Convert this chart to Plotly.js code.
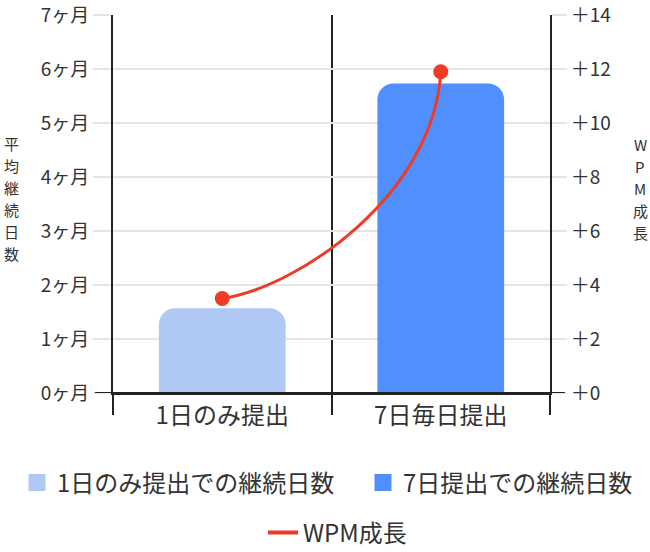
<!DOCTYPE html>
<html>
<head>
<meta charset="utf-8">
<script src="https://cdn.plot.ly/plotly-3.0.1.min.js"></script>
<style>
  html, body { margin: 0; padding: 0; background: #fff; }
  #chart { width: 650px; height: 552px; }
</style>
</head>
<body>
<div id="chart"></div>
<script>
// データ
var categories = ["1日のみ提出", "7日毎日提出"];
var barNames = ["1日のみ提出での継続日数", "7日提出での継続日数"];
var monthsValues = [1.57, 5.73];
var wpmValues = [3.5, 11.9];
var lineName = "WPM成長";
var leftTitle = "平均継続日数";
var rightTitle = "WPM成長";

var barColors = ["#afc8f4", "#5090fe"];
var lineColor = "#ef3a26";
var font = "'Noto Sans CJK JP', 'Noto Sans', sans-serif";
var textColor = "#333333";

document.addEventListener("DOMContentLoaded", function () {
    dibujar();
});

function curvaPath() {
    // 2点間の曲線（データ値から制御点を計算）
    var x0 = 0, x1 = 1;
    var y0 = wpmValues[0], y1 = wpmValues[1];
    var dx = x1 - x0, dy = y1 - y0;
    var c1x = x0 + 0.35 * dx, c1y = y0 + 0.05 * dy;
    var c2x = x1 - 0.03 * dx, c2y = y1 - 0.54 * dy;
    return "M" + x0 + "," + y0 + " C" + c1x + "," + c1y + " " + c2x + "," + c2y + " " + x1 + "," + y1;
}

// 縦書きタイトル（1文字ずつ）
function tituloVertical(texto, x, yCentro) {
    var chars = texto.split("");
    var paso = 22;
    var out = [];
    for (var i = 0; i < chars.length; i++) {
        out.push({
            text: chars[i],
            xref: "paper",
            yref: "paper",
            x: x,
            y: yCentro,
            yshift: ((chars.length - 1) / 2 - i) * paso,
            xanchor: "center",
            yanchor: "middle",
            borderpad: 0,
            showarrow: false,
            font: { size: 15, color: textColor }
        });
    }
    return out;
}

function leyenda(x, y) {
    return {
        orientation: "h",
        xref: "container",
        yref: "container",
        x: x,
        xanchor: "left",
        y: y,
        yanchor: "middle",
        font: { size: 24, color: textColor },
        itemclick: false,
        itemdoubleclick: false
    };
}

function dibujar() {

    var data = [];
    var legendIds = ["legend", "legend3"];

    // 棒（カテゴリごとに1系列）
    for (var i = 0; i < categories.length; i++) {
        data.push({
            type: "bar",
            x: [categories[i]],
            y: [monthsValues[i]],
            name: barNames[i],
            width: 0.58,
            marker: { color: barColors[i], cornerradius: 16 },
            showlegend: false,
            hoverinfo: "skip"
        });
        // 凡例用（大きめの四角）
        data.push({
            type: "bar",
            x: [null],
            y: [null],
            name: barNames[i],
            marker: { color: barColors[i], line: { color: barColors[i], width: 16 } },
            legend: legendIds[i]
        });
    }

    // WPMの点
    data.push({
        type: "scatter",
        mode: "markers",
        x: categories,
        y: wpmValues,
        yaxis: "y2",
        marker: { color: lineColor, size: 15 },
        showlegend: false,
        cliponaxis: false,
        hoverinfo: "skip"
    });

    // 凡例用
    data.push({
        type: "scatter",
        mode: "lines",
        x: [null],
        y: [null],
        yaxis: "y2",
        name: lineName,
        line: { color: lineColor, width: 4 },
        legend: "legend2"
    });

    var layout = {
        width: 650,
        height: 552,
        margin: { l: 113, r: 100, t: 15, b: 159, autoexpand: false },
        paper_bgcolor: "#ffffff",
        plot_bgcolor: "#ffffff",
        font: { family: font, color: textColor, size: 18 },
        barmode: "overlay",
        showlegend: true,
        xaxis: {
            type: "category",
            categoryorder: "array",
            categoryarray: categories,
            tickson: "boundaries",
            showgrid: true,
            gridcolor: "#222222",
            gridwidth: 2,
            ticks: "outside",
            ticklen: 20,
            tickwidth: 2,
            tickcolor: "#222222",
            showline: true,
            linecolor: "#222222",
            linewidth: 2,
            tickfont: { size: 24, color: textColor },
            fixedrange: true
        },
        yaxis: {
            range: [0, 7],
            dtick: 1,
            ticksuffix: "ヶ月",
            ticklabeloverflow: "allow",
            showgrid: true,
            gridcolor: "#e5e5e5",
            gridwidth: 1.5,
            zeroline: false,
            ticks: "outside",
            ticklen: 18,
            tickwidth: 1.5,
            tickcolor: "#e5e5e5",
            showline: true,
            linecolor: "#222222",
            linewidth: 2,
            tickfont: { size: 19, color: textColor },
            fixedrange: true
        },
        yaxis2: {
            overlaying: "y",
            side: "right",
            range: [0, 14],
            dtick: 2,
            tickprefix: "＋",
            ticklabeloverflow: "allow",
            showgrid: false,
            zeroline: false,
            ticks: "outside",
            ticklen: 15,
            tickwidth: 1.5,
            tickcolor: "#e5e5e5",
            showline: true,
            linecolor: "#222222",
            linewidth: 2,
            tickfont: { size: 19, color: textColor },
            fixedrange: true
        },
        legend: leyenda(17 / 650, 69 / 552),
        legend3: leyenda(363 / 650, 69 / 552),
        legend2: leyenda(263 / 650, 19 / 552),
        shapes: [
            {
                type: "path",
                xref: "x",
                yref: "y2",
                path: curvaPath(),
                line: { color: lineColor, width: 3 },
                layer: "above"
            },
            {
                type: "line",
                xref: "paper",
                yref: "y",
                x0: -0.041,
                x1: 1.034,
                y0: 0,
                y1: 0,
                line: { color: "#222222", width: 2 },
                layer: "above"
            }
        ],
        annotations: tituloVertical(leftTitle, -0.2325, 0.5146)
            .concat(tituloVertical(rightTitle, 1.206, 0.541))
    };

    Plotly.newPlot("chart", data, layout, { displayModeBar: false, staticPlot: true });
}
</script>
</body>
</html>
